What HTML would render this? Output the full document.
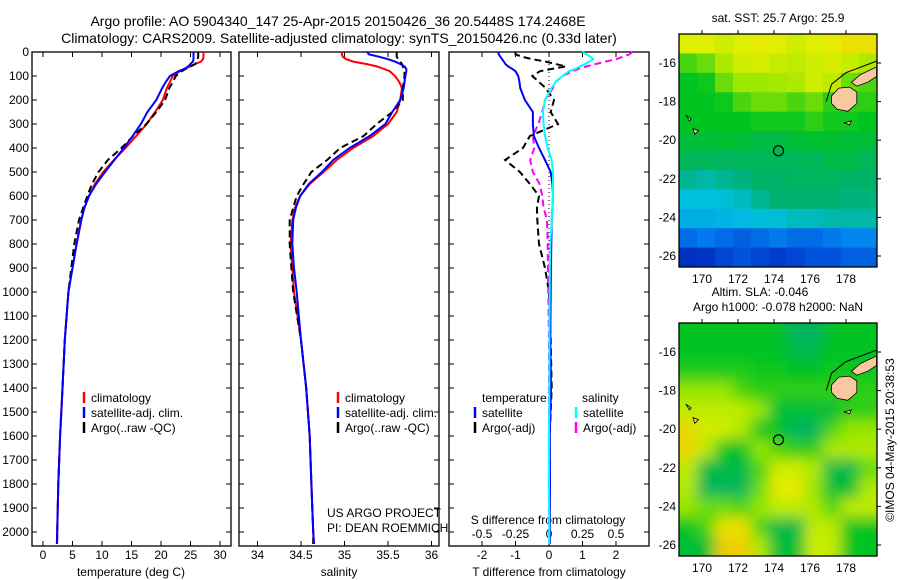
<!DOCTYPE html>
<html><head><meta charset="utf-8"><style>
html,body{margin:0;padding:0;background:#fff}
svg{display:block;font-family:"Liberation Sans",sans-serif}
text{font-size:12px;fill:#000}
</style></head><body>
<svg id="fig" width="900" height="580" viewBox="0 0 900 580" xmlns="http://www.w3.org/2000/svg">
<rect width="900" height="580" fill="#fff"/>
<text x="338" y="26" text-anchor="middle" style="font-size:14px">Argo profile: AO 5904340_147 25-Apr-2015 20150426_36 20.5448S 174.2468E</text>
<text x="339" y="43" text-anchor="middle" style="font-size:14px">Climatology: CARS2009. Satellite-adjusted climatology: synTS_20150426.nc (0.33d later)</text>
<g id="g1"></g>
<g id="g2"></g>
<g id="g3"></g>
<g id="m1"></g>
<g id="m2"></g>
<text transform="translate(894,440) rotate(-90)" text-anchor="middle">©IMOS 04-May-2015 20:38:53</text>
</svg>
<script>
// ---- data ----
const depths=[0,10,20,30,40,50,60,70,80,100,125,150,200,250,300,350,400,450,500,550,600,650,700,800,900,1000,1200,1400,1600,1800,2000,2050];
const tempClim=[27.2,27.2,27.2,27.1,26.8,25.8,25,24,23.2,22,21.5,21,20.3,19,17.6,15.8,14,12,10.2,8.8,7.8,7,6.5,5.7,5,4.3,3.7,3.3,2.9,2.6,2.4,2.35];
const tempSat=[25.5,25.5,25.5,25.5,25.4,25,24.6,24,23,21.5,20.8,20.2,19.2,17.7,16.6,15.2,13.7,12.1,10.5,9,7.8,7,6.5,5.7,5,4.3,3.7,3.3,2.9,2.6,2.4,2.35];
const tempArgo=[26.3,26.3,26.3,26.2,26.1,25.8,25,24.2,23.5,22.5,22,21.4,20.7,19.2,17.5,15.3,13.3,11,9.4,8.3,7.5,6.8,6.1,5.3,4.8,4.3,3.7,3.3,2.9,2.6,2.4,2.4];
const salClim=[34.97,34.97,34.98,35.02,35.1,35.25,35.37,35.45,35.52,35.58,35.63,35.66,35.64,35.6,35.5,35.33,35.1,34.91,34.76,34.6,34.49,34.43,34.4,34.38,34.4,34.42,34.5,34.56,34.6,34.62,34.64,34.65];
const salSat=[35.26,35.28,35.4,35.5,35.58,35.64,35.69,35.71,35.71,35.7,35.69,35.68,35.64,35.55,35.47,35.29,35.06,34.87,34.74,34.59,34.49,34.44,34.41,34.4,34.42,34.45,34.5,34.56,34.6,34.62,34.64,34.65];
const salArgo=[35.6,35.6,35.6,35.62,35.64,35.66,35.67,35.68,35.69,35.69,35.68,35.67,35.67,35.55,35.37,35.22,34.95,34.8,34.62,34.53,34.45,34.41,34.37,34.37,34.39,34.41,34.5,34.56,34.6,34.62,34.64,34.64];
const dTsat=[-1.52,-1.5,-1.45,-1.4,-1.35,-1.3,-1.22,-1.1,-1.0,-0.92,-0.88,-0.86,-0.72,-0.48,-0.48,-0.45,-0.3,-0.12,0.05,0.1,0.12,0.1,0.08,0.07,0.06,0.05,0.04,0.06,0.02,0.03,0.02,0.02];
const dTargo=[-1.0,-1.0,-0.8,-0.5,-0.1,0.2,0.5,0.1,-0.27,-0.5,-0.3,-0.1,0.15,0.05,0.27,-0.57,-0.78,-1.31,-0.87,-0.57,-0.3,-0.36,-0.35,-0.3,-0.12,0.0,0.05,0.08,0.02,0.02,0.02,0.02];
const dSsat=[0.25,0.28,0.31,0.33,0.3,0.27,0.23,0.2,0.15,0.1,0.05,0.02,-0.03,-0.045,-0.04,-0.03,-0.01,0.02,0.03,0.03,0.03,0.025,0.02,0.01,0.007,0.005,0.003,0.002,0,0,0.002,0];
const dSargo=[0.62,0.6,0.55,0.5,0.42,0.35,0.28,0.22,0.18,0.1,0.05,0.03,-0.03,-0.05,-0.08,-0.12,-0.11,-0.14,-0.12,-0.07,-0.05,-0.04,-0.015,-0.01,-0.008,-0.005,0,0,0,0,0,0];
const depthTicks=[0,100,200,300,400,500,600,700,800,900,1000,1100,1200,1300,1400,1500,1600,1700,1800,1900,2000];
const tempTicks=[0,5,10,15,20,25,30];
const salTicks=[34,34.5,35,35.5,36];
const dTTicks=[-2,-1,0,1,2];
const dSTicks=[-0.5,-0.25,0,0.25,0.5];
const sstGrid=[
[0.74,0.74,0.72,0.74,0.76,0.74,0.72,0.74,0.76,0.78,0.78],
[0.6,0.62,0.68,0.72,0.73,0.71,0.7,0.72,0.73,0.71,0.68],
[0.55,0.56,0.62,0.66,0.66,0.67,0.68,0.72,0.7,0.62,0.6],
[0.55,0.55,0.56,0.6,0.62,0.62,0.6,0.62,0.58,0.58,0.58],
[0.55,0.55,0.55,0.55,0.56,0.56,0.56,0.58,0.56,0.56,0.55],
[0.52,0.52,0.53,0.52,0.5,0.5,0.52,0.53,0.53,0.52,0.52],
[0.48,0.48,0.47,0.48,0.48,0.48,0.48,0.48,0.5,0.5,0.48],
[0.42,0.4,0.42,0.44,0.46,0.46,0.47,0.47,0.47,0.46,0.46],
[0.35,0.35,0.36,0.38,0.42,0.45,0.45,0.45,0.45,0.44,0.44],
[0.32,0.32,0.33,0.34,0.36,0.36,0.38,0.38,0.4,0.4,0.4],
[0.22,0.24,0.22,0.2,0.22,0.24,0.22,0.22,0.24,0.26,0.26],
[0.1,0.12,0.16,0.18,0.16,0.14,0.16,0.18,0.18,0.2,0.2]];
const slaGrid=[
[0.55,0.55,0.55,0.55,0.55,0.54,0.47,0.47,0.54,0.55,0.55],
[0.55,0.55,0.55,0.55,0.55,0.54,0.5,0.5,0.55,0.55,0.55],
[0.57,0.57,0.57,0.57,0.56,0.56,0.55,0.55,0.56,0.56,0.56],
[0.65,0.65,0.65,0.6,0.58,0.58,0.58,0.58,0.58,0.58,0.58],
[0.7,0.7,0.7,0.7,0.65,0.52,0.52,0.52,0.52,0.58,0.58],
[0.8,0.72,0.72,0.68,0.55,0.55,0.47,0.47,0.6,0.65,0.65],
[0.8,0.7,0.55,0.55,0.65,0.6,0.58,0.58,0.68,0.68,0.68],
[0.7,0.5,0.5,0.5,0.6,0.72,0.72,0.68,0.5,0.5,0.62],
[0.68,0.48,0.48,0.48,0.62,0.76,0.76,0.65,0.52,0.52,0.68],
[0.65,0.62,0.62,0.6,0.65,0.7,0.7,0.68,0.6,0.7,0.7],
[0.55,0.6,0.78,0.78,0.6,0.5,0.5,0.7,0.7,0.55,0.55],
[0.52,0.52,0.82,0.82,0.68,0.52,0.52,0.72,0.7,0.55,0.55]];
const lonTicks=[170,172,174,176,178];
const latTicks=[16,18,20,22,24,26];
const argoPos=[174.25,20.55];

// ---- helpers ----
const NS='http://www.w3.org/2000/svg';
function mk(parent,tag,attrs){const e=document.createElementNS(NS,tag);for(const k in attrs)e.setAttribute(k,attrs[k]);parent.appendChild(e);return e;}
function txt(parent,x,y,s,anchor){const t=mk(parent,'text',{x:x,y:y,'text-anchor':anchor||'start'});t.textContent=s;return t;}
const PT=52,PB=546;
const yD=d=>52+d*0.24;
function profile(g,xs,vals,color,dash,name){
  let p='';vals.forEach((v,i)=>{p+=(i?'L':'M')+xs(v).toFixed(1)+','+yD(depths[i]).toFixed(1);});
  const e=mk(g,'path',{d:p,fill:'none',stroke:color,'stroke-width':2});
  if(dash)e.setAttribute('stroke-dasharray',dash);
  
  
}
function frame(g,x0,x1,name){
  const r=mk(g,'rect',{x:x0,y:PT,width:x1-x0,height:PB-PT,fill:'none',stroke:'#000','stroke-width':1.3});
  
  
  depthTicks.forEach(d=>{mk(g,'line',{x1:x0,x2:x0+5,y1:yD(d),y2:yD(d),stroke:'#000'});mk(g,'line',{x1:x1-5,x2:x1,y1:yD(d),y2:yD(d),stroke:'#000'});});
}
function xticks(g,xs,ticks,x0,x1,labelY,fmt){
  ticks.forEach(t=>{const x=xs(t);mk(g,'line',{x1:x,x2:x,y1:PT,y2:PT+5,stroke:'#000'});mk(g,'line',{x1:x,x2:x,y1:PB-5,y2:PB,stroke:'#000'});
    const l=txt(g,x,labelY,fmt?fmt(t):String(t),'middle');});
}
function legend(g,x,y,color,label){mk(g,'line',{x1:x,x2:x,y1:y-10,y2:y+1,stroke:color,'stroke-width':2.5});const t=txt(g,x+7,y,label);}

// ---- panel 1 ----
const g1=document.getElementById('g1');
const xT=t=>43+t*5.9;
frame(g1,32,231,'temperature-plot-frame');
depthTicks.forEach(d=>{const l=txt(g1,29,yD(d)+4,String(d),'end');});
xticks(g1,xT,tempTicks,32,231,559);
profile(g1,xT,tempClim,'#f00',null,'temp-climatology-line');
profile(g1,xT,tempArgo,'#000','7,4','temp-argo-line');
profile(g1,xT,tempSat,'#00f',null,'temp-satellite-line');
legend(g1,84,402,'#f00','climatology');legend(g1,84,417,'#00f','satellite-adj. clim.');legend(g1,84,432,'#000','Argo(..raw -QC)');
txt(g1,131,576,'temperature (deg C)','middle');

// ---- panel 2 ----
const g2=document.getElementById('g2');
const xS=s=>257.5+(s-34)*87;
frame(g2,239,439,'salinity-plot-frame');
xticks(g2,xS,salTicks,239,439,559);
profile(g2,xS,salClim,'#f00',null,'sal-climatology-line');
profile(g2,xS,salArgo,'#000','7,4','sal-argo-line');
profile(g2,xS,salSat,'#00f',null,'sal-satellite-line');
legend(g2,338,402,'#f00','climatology');legend(g2,338,417,'#00f','satellite-adj. clim.');legend(g2,338,432,'#000','Argo(..raw -QC)');
txt(g2,339,576,'salinity','middle');
txt(g2,327,517,'US ARGO PROJECT');
txt(g2,327,532,'PI: DEAN ROEMMICH');

// ---- panel 3 ----
const g3=document.getElementById('g3');
mk(g3,'rect',{x:449,y:PT,width:200,height:PB-PT,fill:'#fff'});
const xdT=v=>549+v*33.5, xdS=v=>549+v*134;
frame(g3,449,649,'difference-plot-frame');
xticks(g3,xdT,dTTicks,449,649,559);
dSTicks.forEach(t=>{const l=txt(g3,xdS(t),538,String(t),'middle');});
txt(g3,548,524,'S difference from climatology','middle');
mk(g3,'line',{x1:xdT(0),x2:xdT(0),y1:PT,y2:PB,stroke:'#000','stroke-dasharray':'1,3'});
profile(g3,xdT,dTargo,'#000','7,4','dT-argo-line');
profile(g3,xdS,dSargo,'#f0f','7,4','dS-argo-line');
profile(g3,xdT,dTsat,'#00f',null,'dT-satellite-line');
profile(g3,xdS,dSsat,'#0ff',null,'dS-satellite-line');
txt(g3,482,402,'temperature');txt(g3,582,402,'salinity');
legend(g3,475,417,'#00f','satellite');legend(g3,475,432,'#000','Argo(-adj)');
legend(g3,576,417,'#0ff','satellite');legend(g3,576,432,'#f0f','Argo(-adj)');
txt(g3,549,576,'T difference from climatology','middle');

// ---- maps ----
const stops=[[0,[0,16,160]],[0.15,[0,64,208]],[0.25,[0,128,240]],[0.35,[0,192,224]],[0.45,[0,176,112]],[0.55,[0,196,32]],[0.65,[150,230,0]],[0.75,[230,240,0]],[0.85,[240,190,0]],[1,[240,128,0]]];
function cmap(v){for(let i=1;i<stops.length;i++){if(v<=stops[i][0]){const a=stops[i-1],b=stops[i],f=(v-a[0])/(b[0]-a[0]);const c=a[1].map((x,k)=>Math.round(x+(b[1][k]-x)*f));return 'rgb('+c.join(',')+')';}}return 'rgb(240,128,0)';}
function drawMap(id,top,grid,blur,titles,name){
  const g=document.getElementById(id);
  const L=679,R=877,B=top+233;
  const lonX=lo=>702+(lo-170)*18, latY=la=>top+29+(la-16)*19.3;
  const cid='clip'+id;
  const defs=mk(g,'defs',{});const cp=mk(defs,'clipPath',{id:cid});mk(cp,'rect',{x:L,y:top,width:R-L,height:B-top});
  if(blur){const f=mk(defs,'filter',{id:'bl'+id,x:'-0.1',y:'-0.1',width:'1.2',height:'1.2'});mk(f,'feGaussianBlur',{stdDeviation:7});}
  const cg=mk(g,'g',{'clip-path':'url(#'+cid+')'});
  const ig=mk(cg,'g',blur?{filter:'url(#bl'+id+')'}:{});
  const rows=grid.length,cols=grid[0].length,cw=(R-L)/cols,ch=(B-top)/rows;
  grid.forEach((row,r)=>row.forEach((v,c)=>{
    const e=mk(ig,'rect',{x:(L+c*cw-(blur?(c==0?20:0):0)).toFixed(1),y:(top+r*ch-(blur&&r==0?20:0)).toFixed(1),width:(cw+0.6+(blur&&(c==0||c==cols-1)?20:0)).toFixed(1),height:(ch+0.6+(blur&&(r==0||r==rows-1)?20:0)).toFixed(1),fill:cmap(v)});
    
    
  }));
  const land='#f8c8a0';
  const P=pts=>pts.map(p=>lonX(p[0]).toFixed(1)+','+latY(p[1]).toFixed(1)).join(' ');
  mk(cg,'path',{d:'M'+P([[176.9,18.0],[177.2,17.1],[178.0,16.5],[179.7,15.9]]).replace(/ /g,' L'),fill:'none',stroke:'#000','stroke-width':1});
  const isl=[[[177.2,17.7],[177.6,17.3],[178.2,17.25],[178.6,17.5],[178.6,18.1],[178.1,18.5],[177.5,18.4],[177.2,18.1]],
             [[178.3,17.0],[178.8,16.6],[179.7,16.2],[179.7,16.7],[179.2,17.0],[178.6,17.2]],
             [[169.1,18.7],[169.4,18.9],[169.3,19.0]],[[169.5,19.4],[169.8,19.5],[169.6,19.7]],
             [[177.9,19.1],[178.3,19.0],[178.2,19.2]]];
  isl.forEach(s=>{const e=mk(cg,'polygon',{points:P(s),fill:land,stroke:'#000','stroke-width':0.8});});
  const circ=mk(cg,'circle',{cx:lonX(argoPos[0]),cy:latY(argoPos[1]),r:5,fill:'none',stroke:'#000','stroke-width':1.2});
  
  
  const fr=mk(g,'rect',{x:L,y:top,width:R-L,height:B-top,fill:'none',stroke:'#000','stroke-width':1.3});
  
  
  lonTicks.forEach(lo=>{const x=lonX(lo);mk(g,'line',{x1:x,x2:x,y1:top-4,y2:top,stroke:'#000'});txt(g,x,B+16,String(lo),'middle');});
  latTicks.forEach(la=>{const y=latY(la);mk(g,'line',{x1:R,x2:R+4,y1:y,y2:y,stroke:'#000'});txt(g,676,y+4,'-'+la,'end');});
  titles.forEach((t,i)=>{const e=txt(g,778-(titles.length>1&&i==0?18:0),top-(titles.length-i)*15+3,t,'middle');});
}
drawMap('m1',34,sstGrid,false,['sat. SST: 25.7 Argo: 25.9'],'sst-map');
drawMap('m2',323,slaGrid,true,['Altim. SLA: -0.046','Argo h1000: -0.078 h2000: NaN'],'sla-map');
</script>
</body></html>
